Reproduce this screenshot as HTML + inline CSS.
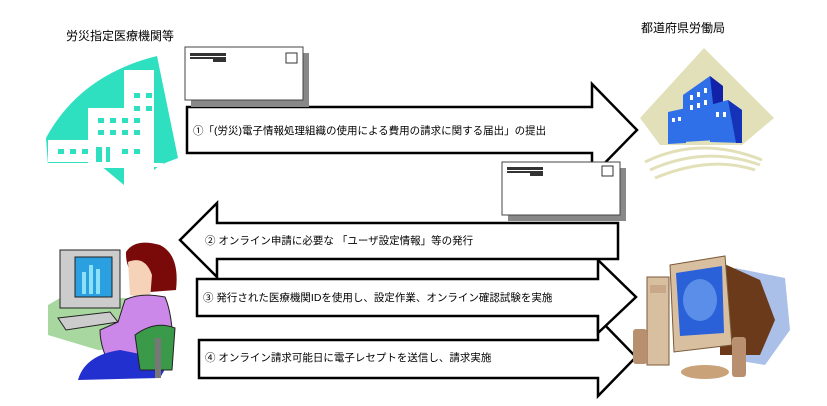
<!DOCTYPE html>
<html><head><meta charset="utf-8"><style>
html,body{margin:0;padding:0;background:#fff;}
svg{display:block;}
text{font-family:"Liberation Sans","Noto Sans CJK JP",sans-serif;fill:#000;}
</style></head><body>
<svg width="827" height="406" viewBox="0 0 827 406" xmlns="http://www.w3.org/2000/svg">
<text x="66" y="40" font-size="12">労災指定医療機関等</text>
<text x="641" y="32" font-size="12">都道府県労働局</text>

<!-- hospital -->
<path d="M46 138 Q80 75 157 56 L178 158 L160 165 L130 190 L100 165 L48 165 Z" fill="#2ee0c0"/>
<g fill="#fff">
<rect x="124" y="70" width="30" height="120"/>
<rect x="88" y="108" width="40" height="60"/>
<rect x="48" y="140" width="45" height="22"/>
<rect x="48" y="163" width="115" height="4"/>
</g>
<g fill="#2ee0c0">
<rect x="134" y="93" width="6" height="5"/><rect x="146" y="93" width="6" height="5"/>
<rect x="134" y="106" width="6" height="5"/><rect x="146" y="106" width="6" height="5"/>
<rect x="98" y="118" width="6" height="5"/><rect x="110" y="118" width="6" height="5"/><rect x="122" y="118" width="6" height="5"/><rect x="134" y="118" width="6" height="5"/>
<rect x="98" y="130" width="6" height="5"/><rect x="110" y="130" width="6" height="5"/><rect x="122" y="130" width="6" height="5"/><rect x="134" y="130" width="6" height="5"/>
<rect x="58" y="149" width="6" height="5"/><rect x="70" y="149" width="6" height="5"/><rect x="82" y="149" width="6" height="5"/>
<rect x="122" y="149" width="6" height="5"/><rect x="134" y="149" width="6" height="5"/>
<rect x="96" y="147" width="6" height="15"/><rect x="106" y="147" width="4" height="15"/>
</g>

<!-- arrows -->
<g fill="#fff" stroke="#000" stroke-width="2.5" stroke-linejoin="miter">
<path d="M187 107 H592 V84 L637 130 L592 176 V153 H187 Z"/>
<path d="M199 340 H598 V318 L636 357 L598 396 V378 H199 Z"/>
<path d="M197 279 H598 V260 L636 297 L598 333 V316 H197 Z"/>
<path d="M618 223 H217 V203 L180 240 L217 277 V259 H618 Z"/>
</g>
<text x="193" y="134" font-size="10.5">①「(労災)電子情報処理組織の使用による費用の請求に関する届出」の提出</text>
<text x="205" y="244" font-size="10.5">② オンライン申請に必要な 「ユーザ設定情報」等の発行</text>
<text x="203" y="301" font-size="10.5">③ 発行された医療機関IDを使用し、設定作業、オンライン確認試験を実施</text>
<text x="205" y="361" font-size="10.5">④ オンライン請求可能日に電子レセプトを送信し、請求実施</text>

<!-- envelopes -->
<rect x="191" y="53" width="118" height="54" fill="#888"/>
<rect x="185" y="47" width="118" height="53" fill="#fff" stroke="#444" stroke-width="1"/>
<rect x="190" y="53" width="36" height="3" fill="#333"/><rect x="190" y="57" width="36" height="2" fill="#333"/><rect x="213" y="59" width="13" height="3" fill="#333"/>
<rect x="286" y="53" width="11" height="10" fill="#fff" stroke="#333"/>
<rect x="508" y="168" width="118" height="53" fill="#888"/>
<rect x="502" y="162" width="118" height="53" fill="#fff" stroke="#444" stroke-width="1"/>
<rect x="507" y="167" width="36" height="3" fill="#333"/><rect x="507" y="171" width="36" height="2" fill="#333"/><rect x="530" y="173" width="13" height="3" fill="#333"/>
<rect x="602" y="166" width="11" height="10" fill="#fff" stroke="#333"/>

<!-- govt building -->
<polygon points="704,48 774,118 742,145 660,145 640,118" fill="#e2e0b8"/>
<polygon points="668,112 686,108 686,143 668,144" fill="#2f6fe8"/>
<polygon points="683,95 710,76 717,82 717,140 683,142" fill="#2f6fe8"/>
<polygon points="710,76 723,86 723,140 717,140" fill="#1222a8"/>
<polygon points="710,105 728,100 742,110 742,143 710,142" fill="#2f6fe8"/>
<polygon points="728,100 742,110 742,143 736,143" fill="#1433b8"/>
<g fill="#fff">
<rect x="690" y="95" width="3" height="5"/><rect x="697" y="92" width="3" height="5"/><rect x="704" y="88" width="3" height="5"/>
<rect x="690" y="105" width="3" height="5"/><rect x="697" y="103" width="3" height="5"/><rect x="704" y="100" width="3" height="5"/>
<rect x="672" y="118" width="3" height="4"/><rect x="678" y="117" width="3" height="4"/><rect x="716" y="112" width="3" height="5"/><rect x="723" y="112" width="3" height="5"/>
</g>
<g fill="none" stroke="#e2e0b8" stroke-width="3">
<path d="M645 162 Q700 135 762 160"/><path d="M650 170 Q705 145 760 165"/><path d="M655 178 Q710 155 755 170"/>
</g>

<!-- woman at computer -->
<polygon points="48,305 60,298 140,298 140,348 98,350 48,335" fill="#a8d8a0"/>
<rect x="60" y="250" width="60" height="58" fill="#ccc" stroke="#222"/>
<rect x="75" y="257" width="37" height="40" fill="#2aa0e0" stroke="#222"/>
<rect x="82" y="272" width="4" height="22" fill="#8ce0f8"/><rect x="89" y="265" width="4" height="29" fill="#8ce0f8"/><rect x="96" y="269" width="4" height="25" fill="#8ce0f8"/>
<polygon points="58,318 110,312 118,322 66,330" fill="#ccc" stroke="#222"/>
<path d="M126 252 Q135 238 160 245 Q180 255 176 290 L150 292 Q125 275 126 252Z" fill="#7a0a0a"/>
<path d="M128 262 Q145 255 152 275 L150 300 L130 295 Z" fill="#f6d3b8"/>
<path d="M125 300 Q140 292 165 297 Q175 320 172 368 L115 375 Q100 350 100 330 L118 322 Z" fill="#cc88e8" stroke="#222"/>
<path d="M78 380 Q85 355 120 350 L170 360 L160 378 Z" fill="#2230d0"/>
<path d="M135 335 Q155 320 175 328 L172 370 L140 370 Z" fill="#3a9a4a" stroke="#222"/>
<rect x="155" y="338" width="6" height="40" fill="#777"/>

<!-- PC -->
<polygon points="735,268 785,278 790,330 765,365 735,360" fill="#aac0e8"/>
<polygon points="720,262 760,280 775,320 760,355 720,355" fill="#6b3a1a"/>
<rect x="647" y="277" width="22" height="88" fill="#d8bfa0" stroke="#7a5a3a"/>
<rect x="650" y="285" width="16" height="8" fill="#c8a888"/>
<polygon points="670,265 725,256 732,345 674,352" fill="#d8bfa0" stroke="#7a5a3a"/>
<polygon points="676,273 722,266 724,333 680,336" fill="#2a60d8"/>
<ellipse cx="700" cy="300" rx="17" ry="21" fill="#5a8ee8"/>
<ellipse cx="705" cy="372" rx="24" ry="7" fill="#c9a27a"/>
<rect x="633" y="329" width="14" height="35" fill="#b89070" rx="3"/>
<rect x="732" y="337" width="14" height="40" fill="#b89070" rx="3"/>
</svg>
</body></html>
